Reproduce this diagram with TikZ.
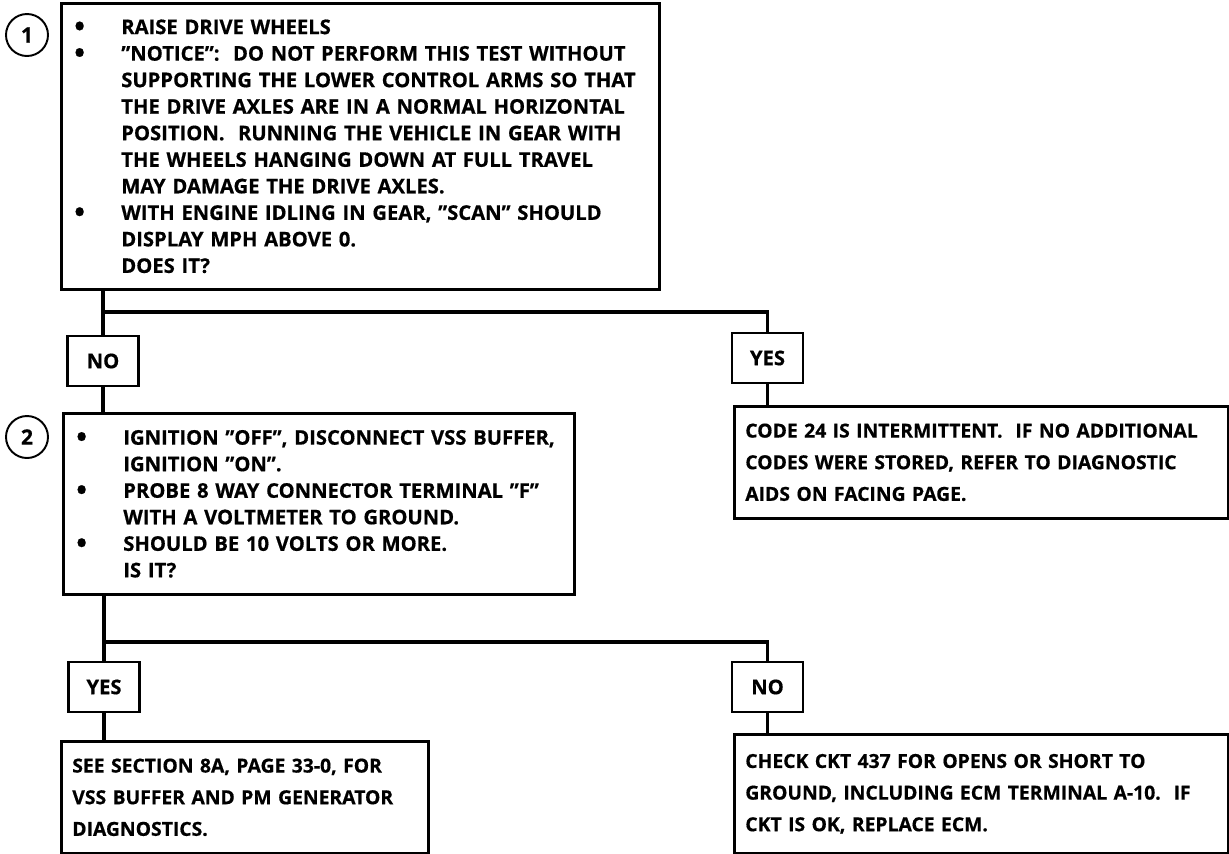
\documentclass[tikz,border=0pt]{standalone}
\usepackage{fontspec}
\setmainfont{Open Sans}[BoldFeatures={FakeBold=0.6}]
\usetikzlibrary{positioning}

% bullet and hanging indent for the check lists
\newcommand{\itm}{\makebox[0.94cm][l]{\raisebox{-0.2ex}{\scalebox{1.4}{\textbullet}}}}
\newcommand{\cnt}{\hspace*{0.94cm}}

\begin{document}
\begin{tikzpicture}[
    font=\bfseries\fontsize{11.5}{15.1}\selectfont,
    stepbox/.style={
        rectangle,
        draw=black,
        line width=1.5pt,
        anchor=north west,
        align=left,
        inner xsep=0.26cm,
        inner ysep=0pt
    },
    resultbox/.style={
        rectangle,
        draw=black,
        line width=1.5pt,
        anchor=north west,
        align=left,
        inner xsep=0.22cm,
        inner ysep=0pt,
        font=\bfseries\fontsize{11}{18}\selectfont
    },
    answer/.style={
        rectangle,
        draw=black,
        fill=white,
        line width=1.5pt,
        minimum width=1.42cm,
        minimum height=1.0cm,
        inner sep=0pt
    },
    numcircle/.style={
        circle,
        draw=black,
        line width=1.1pt,
        minimum size=0.84cm,
        inner sep=0pt,
        font=\bfseries\fontsize{12}{12}\selectfont
    },
    link/.style={
        line width=2.2pt,
        draw=black
    }
]

\useasboundingbox (0,0) rectangle (24.58,-17.08);

% step 1
\node[stepbox, text width=11.44cm, minimum height=5.72cm] (step1) at (1.2,-0.04) {%
\itm RAISE DRIVE WHEELS\\
\itm ”NOTICE”:\ \ DO NOT PERFORM THIS TEST WITHOUT\\
\cnt SUPPORTING THE LOWER CONTROL ARMS SO THAT\\
\cnt THE DRIVE AXLES ARE IN A NORMAL HORIZONTAL\\
\cnt POSITION.\ \ RUNNING THE VEHICLE IN GEAR WITH\\
\cnt THE WHEELS HANGING DOWN AT FULL TRAVEL\\
\cnt MAY DAMAGE THE DRIVE AXLES.\\
\itm WITH ENGINE IDLING IN GEAR, ”SCAN” SHOULD\\
\cnt DISPLAY MPH ABOVE 0.\\
\cnt DOES IT?};
\node[numcircle] (num1) at (0.54,-0.7) {1};

\node[answer] (no1) at (2.06,-7.22) {NO};
\node[answer] (yes1) at (15.35,-7.16) {YES};

% step 2
\node[stepbox, text width=9.7cm, minimum height=3.62cm] (step2) at (1.24,-8.24) {%
\itm IGNITION ”OFF”, DISCONNECT VSS BUFFER,\\
\cnt IGNITION ”ON”.\\
\itm PROBE 8 WAY CONNECTOR TERMINAL ”F”\\
\cnt WITH A VOLTMETER TO GROUND.\\
\itm SHOULD BE 10 VOLTS OR MORE.\\
\cnt IS IT?};
\node[numcircle] (num2) at (0.54,-8.74) {2};

\node[resultbox, text width=9.44cm, minimum height=2.24cm] (intermit) at (14.66,-8.1) {%
CODE 24 IS INTERMITTENT.\ \ IF NO ADDITIONAL\\
CODES WERE STORED, REFER TO DIAGNOSTIC\\
AIDS ON FACING PAGE.};

\node[answer] (yes2) at (2.08,-13.74) {YES};
\node[answer] (no2) at (15.35,-13.74) {NO};

\node[resultbox, text width=6.9cm, minimum height=2.24cm] (buffer) at (1.2,-14.8) {%
SEE SECTION 8A, PAGE 33-0, FOR\\
VSS BUFFER AND PM GENERATOR\\
DIAGNOSTICS.};

\node[resultbox, text width=9.44cm, minimum height=2.38cm] (ckt) at (14.66,-14.66) {%
CHECK CKT 437 FOR OPENS OR SHORT TO\\
GROUND, INCLUDING ECM TERMINAL A-10.\ \ IF\\
CKT IS OK, REPLACE ECM.};

\coordinate (split1) at (2.06,-6.24);
\coordinate (split2) at (2.08,-12.84);

% branches
\draw[link] (no1 |- step1.south) -- (no1.north);
\draw[link] (split1) -| (yes1.north);
\draw[link] (no1.south) -- (no1 |- step2.north);
\draw[link] (yes1.south) -- (yes1 |- intermit.north);

\draw[link] (yes2 |- step2.south) -- (yes2.north);
\draw[link] (split2) -| (no2.north);
\draw[link] (yes2.south) -- (yes2 |- buffer.north);
\draw[link] (no2.south) -- (no2 |- ckt.north);

\end{tikzpicture}
\end{document}
